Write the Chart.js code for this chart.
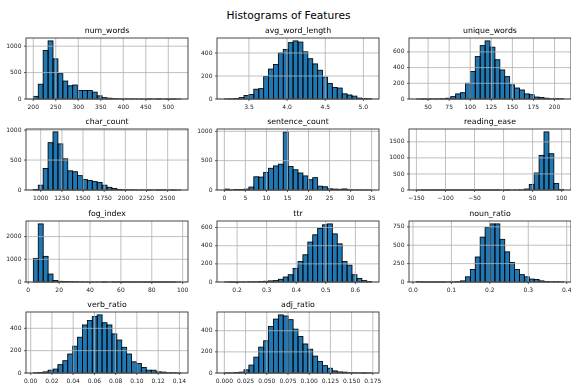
<!DOCTYPE html>
<html>
<head>
<meta charset="utf-8" />
<title>Histograms of Features</title>
<script src="https://cdn.jsdelivr.net/npm/chart.js@4.4.1/dist/chart.umd.min.js"></script>
<style>
  body { margin: 0; background: #fff; }
  #page { position: relative; width: 571px; height: 387px; overflow: hidden; }
  #title { position: absolute; left: 0; width: 577px; top: 9px; line-height: 13px; text-align: center;
           font-family: "DejaVu Sans"; font-size: 10.7px; color: #000; }
  .cell { position: absolute; }
</style>
</head>
<body>
<div id="page">
  <div id="title">Histograms of Features</div>
</div>
<script>
// data range [min, max] of each feature, 30 equal bins between them
const numWordsRange = [200.2, 527.4];
const numWordsCounts = [50, 280, 920, 1100, 760, 480, 340, 250, 265, 160, 160, 160, 130, 60, 25, 15, 8, 3, 2, 2, 1, 1, 1, 0, 1, 0, 1, 0, 0, 1];
const numWordsXLabels = ["200", "250", "300", "350", "400", "450", "500"];
const numWordsYLabels = ["0", "500", "1000"];

const avgWordLengthRange = [3.178, 5.108];
const avgWordLengthCounts = [1, 2, 5, 12, 30, 40, 85, 90, 195, 260, 300, 400, 430, 490, 505, 495, 410, 350, 305, 250, 190, 135, 100, 95, 45, 35, 25, 8, 5, 3];
const avgWordLengthXLabels = ["3.5", "4.0", "4.5", "5.0"];
const avgWordLengthYLabels = ["0", "200", "400"];

const uniqueWordsRange = [36.1, 210.8];
const uniqueWordsCounts = [1, 0, 0, 1, 2, 4, 10, 30, 65, 80, 200, 350, 540, 680, 740, 660, 500, 370, 285, 180, 140, 115, 65, 55, 25, 20, 10, 3, 5, 3];
const uniqueWordsXLabels = ["50", "75", "100", "125", "150", "175", "200"];
const uniqueWordsYLabels = ["0", "200", "400", "600"];

const charCountRange = [913, 2653];
const charCountCounts = [10, 80, 360, 790, 970, 770, 520, 320, 305, 240, 175, 160, 140, 125, 80, 45, 25, 10, 5, 3, 2, 1, 1, 0, 1, 0, 0, 1, 0, 1];
const charCountXLabels = ["1000", "1250", "1500", "1750", "2000", "2250", "2500"];
const charCountYLabels = ["0", "500", "1000"];

const sentenceCountRange = [0, 35];
const sentenceCountCounts = [15, 2, 10, 8, 15, 50, 225, 220, 300, 370, 410, 440, 990, 400, 345, 290, 240, 175, 210, 65, 55, 20, 15, 12, 18, 5, 2, 1, 1, 1];
const sentenceCountXLabels = ["0", "5", "10", "15", "20", "25", "30", "35"];
const sentenceCountYLabels = ["0", "500", "1000"];

const readingEaseRange = [-150.1, 103.4];
const readingEaseCounts = [1, 0, 0, 0, 0, 0, 0, 0, 0, 0, 0, 0, 0, 0, 0, 0, 0, 1, 0, 1, 2, 5, 30, 175, 530, 1080, 1810, 1130, 200, 15];
const readingEaseXLabels = ["\u2212150", "\u2212100", "\u221250", "0", "50", "100"];
const readingEaseYLabels = ["0", "500", "1000", "1500"];

const fogIndexRange = [3.3, 98.7];
const fogIndexCounts = [1040, 2560, 1130, 350, 70, 30, 20, 15, 10, 5, 3, 2, 1, 1, 0, 1, 0, 0, 0, 0, 0, 0, 0, 0, 0, 0, 0, 0, 0, 1];
const fogIndexXLabels = ["0", "20", "40", "60", "80", "100"];
const fogIndexYLabels = ["0", "1000", "2000"];

const ttrRange = [0.157, 0.655];
const ttrCounts = [1, 0, 0, 1, 1, 2, 3, 5, 8, 12, 15, 30, 55, 80, 150, 225, 300, 440, 520, 590, 630, 640, 530, 420, 225, 185, 80, 40, 15, 5];
const ttrXLabels = ["0.2", "0.3", "0.4", "0.5", "0.6"];
const ttrYLabels = ["0", "200", "400", "600"];

const nounRatioRange = [0.0088, 0.392];
const nounRatioCounts = [5, 0, 0, 0, 0, 0, 1, 1, 5, 15, 70, 170, 340, 610, 740, 790, 790, 580, 410, 265, 170, 100, 70, 40, 35, 15, 8, 3, 5, 2];
const nounRatioXLabels = ["0.0", "0.1", "0.2", "0.3", "0.4"];
const nounRatioYLabels = ["0", "250", "500", "750"];

const verbRatioRange = [0.0025, 0.1412];
const verbRatioCounts = [2, 5, 10, 25, 35, 75, 110, 170, 240, 320, 430, 470, 505, 520, 450, 430, 350, 295, 230, 170, 100, 85, 50, 25, 25, 10, 8, 3, 2, 1];
const verbRatioXLabels = ["0.00", "0.02", "0.04", "0.06", "0.08", "0.10", "0.12", "0.14"];
const verbRatioYLabels = ["0", "200", "400"];

const adjRatioRange = [0.0, 0.1736];
const adjRatioCounts = [2, 1, 5, 8, 30, 75, 150, 245, 305, 440, 510, 550, 540, 505, 415, 345, 275, 225, 160, 110, 70, 45, 20, 10, 8, 3, 2, 1, 0, 1];
const adjRatioXLabels = ["0.000", "0.025", "0.050", "0.075", "0.100", "0.125", "0.150", "0.175"];
const adjRatioYLabels = ["0", "200", "400"];

const features = [
  { name: "num_words", range: numWordsRange, counts: numWordsCounts, xLabels: numWordsXLabels, yLabels: numWordsYLabels },
  { name: "avg_word_length", range: avgWordLengthRange, counts: avgWordLengthCounts, xLabels: avgWordLengthXLabels, yLabels: avgWordLengthYLabels },
  { name: "unique_words", range: uniqueWordsRange, counts: uniqueWordsCounts, xLabels: uniqueWordsXLabels, yLabels: uniqueWordsYLabels },
  { name: "char_count", range: charCountRange, counts: charCountCounts, xLabels: charCountXLabels, yLabels: charCountYLabels },
  { name: "sentence_count", range: sentenceCountRange, counts: sentenceCountCounts, xLabels: sentenceCountXLabels, yLabels: sentenceCountYLabels },
  { name: "reading_ease", range: readingEaseRange, counts: readingEaseCounts, xLabels: readingEaseXLabels, yLabels: readingEaseYLabels },
  { name: "fog_index", range: fogIndexRange, counts: fogIndexCounts, xLabels: fogIndexXLabels, yLabels: fogIndexYLabels },
  { name: "ttr", range: ttrRange, counts: ttrCounts, xLabels: ttrXLabels, yLabels: ttrYLabels },
  { name: "noun_ratio", range: nounRatioRange, counts: nounRatioCounts, xLabels: nounRatioXLabels, yLabels: nounRatioYLabels },
  { name: "verb_ratio", range: verbRatioRange, counts: verbRatioCounts, xLabels: verbRatioXLabels, yLabels: verbRatioYLabels },
  { name: "adj_ratio", range: adjRatioRange, counts: adjRatioCounts, xLabels: adjRatioXLabels, yLabels: adjRatioYLabels }
];

// subplot grid geometry (plot area boxes)
const colLeft = [26, 217, 409];
const rowTop = [38, 129, 221, 312];
const axW = 162, axH = 61;
const padL = 40, padT = 18, padR = 8, padB = 16;

Chart.defaults.font.family = "DejaVu Sans";
Chart.defaults.font.size = 6;

const num = s => parseFloat(s.replace("\u2212", "-"));

function decor(title) {
  return {
    id: "decor",
    afterDatasetsDraw(chart) {
      const { ctx, chartArea: a, scales: { x, y } } = chart;
      ctx.save();
      // bar edges, stroked on the bin boundaries
      ctx.strokeStyle = "#000";
      ctx.lineWidth = 0.85;
      chart.getDatasetMeta(0).data.forEach(b => {
        const { x: cx, y: top, base, width } = b.getProps(["x", "y", "base", "width"], true);
        ctx.strokeRect(cx - width / 2, top, width, base - top);
      });
      // grid sits above the bars, like matplotlib's default
      ctx.strokeStyle = "#b0b0b0";
      ctx.lineWidth = 0.8;
      ctx.beginPath();
      x.ticks.forEach(t => {
        const px = x.getPixelForValue(t.value);
        ctx.moveTo(px, a.top); ctx.lineTo(px, a.bottom);
      });
      y.ticks.forEach(t => {
        const py = y.getPixelForValue(t.value);
        ctx.moveTo(a.left, py); ctx.lineTo(a.right, py);
      });
      ctx.stroke();
      // tick marks
      ctx.strokeStyle = "#333";
      ctx.beginPath();
      x.ticks.forEach(t => {
        const px = x.getPixelForValue(t.value);
        ctx.moveTo(px, a.bottom); ctx.lineTo(px, a.bottom + 2);
      });
      y.ticks.forEach(t => {
        const py = y.getPixelForValue(t.value);
        ctx.moveTo(a.left, py); ctx.lineTo(a.left - 2, py);
      });
      ctx.stroke();
      // frame
      ctx.strokeStyle = "#333";
      ctx.lineWidth = 0.9;
      ctx.strokeRect(a.left, a.top, a.right - a.left, a.bottom - a.top);
      // subplot title
      ctx.fillStyle = "#000";
      ctx.font = '7.8px "DejaVu Sans"';
      ctx.textAlign = "center";
      ctx.textBaseline = "middle";
      ctx.fillText(title, (a.left + a.right) / 2, a.top - 7.5);
      ctx.restore();
    }
  };
}

const page = document.getElementById("page");

features.forEach((f, i) => {
  const L = colLeft[i % 3], T = rowTop[Math.floor(i / 3)];
  const div = document.createElement("div");
  div.className = "cell";
  div.style.left = (L - padL) + "px";
  div.style.top = (T - padT) + "px";
  const canvas = document.createElement("canvas");
  canvas.width = axW + padL + padR;
  canvas.height = axH + padT + padB;
  div.appendChild(canvas);
  page.appendChild(div);

  const [lo, hi] = f.range;
  const n = f.counts.length;
  const w = (hi - lo) / n;
  const pts = f.counts.map((c, k) => ({ x: lo + (k + 0.5) * w, y: c }));
  const m = 0.05 * (hi - lo);
  const ymax = 1.05 * Math.max(...f.counts);
  const xVals = f.xLabels.map(num);
  const yVals = f.yLabels.map(num);

  new Chart(canvas, {
    type: "bar",
    data: {
      datasets: [{
        data: pts,
        backgroundColor: "#1f77b4",
        borderWidth: 0,
        barPercentage: 1,
        categoryPercentage: 1,
        inflateAmount: 0
      }]
    },
    options: {
      responsive: false,
      animation: false,
      events: [],
      layout: { padding: { left: 0, top: padT, right: padR, bottom: 0 } },
      plugins: { legend: { display: false }, tooltip: { enabled: false } },
      scales: {
        x: {
          type: "linear", min: lo - m, max: hi + m, offset: false,
          grid: { display: false, drawTicks: false }, border: { display: false },
          afterBuildTicks: s => { s.ticks = xVals.map(v => ({ value: v })); },
          afterFit: s => { s.height = padB; s.paddingLeft = 0; s.paddingRight = 0; },
          ticks: { autoSkip: false, maxRotation: 0, padding: 5, color: "#222",
                   callback: (v, k) => f.xLabels[k] }
        },
        y: {
          type: "linear", min: 0, max: ymax,
          grid: { display: false, drawTicks: false }, border: { display: false },
          afterBuildTicks: s => { s.ticks = yVals.map(v => ({ value: v })); },
          afterFit: s => { s.width = padL; s.paddingTop = 0; s.paddingBottom = 0; },
          ticks: { autoSkip: false, padding: 4.5, color: "#222",
                   callback: (v, k) => f.yLabels[k] }
        }
      }
    },
    plugins: [decor(f.name)]
  });
});
</script>
</body>
</html>
